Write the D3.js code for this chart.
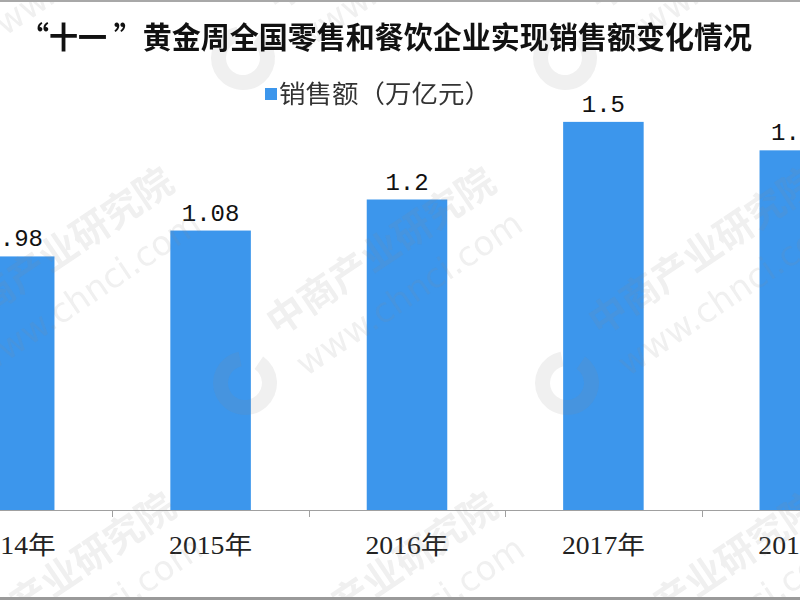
<!DOCTYPE html>
<html>
<head>
<meta charset="utf-8">
<script src="https://cdn.jsdelivr.net/npm/d3@7"></script>
<style>
html,body{margin:0;padding:0;background:#fff;}
svg{display:block;}
</style>
</head>
<body>
<svg id="chart" width="800" height="600"></svg>
<script>
const categories = ["2014年", "2015年", "2016年", "2017年", "2018年"];
const values = [0.98, 1.08, 1.2, 1.5, 1.39];
const valueLabels = ["0.98", "1.08", "1.2", "1.5", "1.39"];
const seriesName = "销售额（万亿元）";
const titleText = "“十一 ”黄金周全国零售和餐饮企业实现销售额变化情况";
const watermarkName = "中商产业研究院";
const watermarkUrl = "www.chnci.com";

const W = 800, H = 600;
const barColor = "#3c96ec";
const svg = d3.select("#chart");

svg.append("rect").attr("width", W).attr("height", H).attr("fill", "#fff");

const x = d3.scaleBand().domain(categories).range([-84, 898]).padding(0);
const y = d3.scaleLinear().domain([0, 1.6]).range([510, 96]);
const barW = x.bandwidth() * 0.41;

// bars
svg.append("g").selectAll("rect").data(categories).join("rect")
  .attr("x", (d) => x(d) + x.bandwidth() / 2 - barW / 2)
  .attr("y", (d, i) => y(values[i]))
  .attr("width", barW)
  .attr("height", (d, i) => y(0) - y(values[i]))
  .attr("fill", barColor);

// value labels
svg.append("g").selectAll("text").data(categories).join("text")
  .attr("x", (d) => x(d) + x.bandwidth() / 2)
  .attr("y", (d, i) => y(values[i]) - 10)
  .attr("text-anchor", "middle")
  .attr("font-family", "'Liberation Mono', 'DejaVu Sans Mono', monospace")
  .attr("font-size", 24)
  .attr("fill", "#111")
  .text((d, i) => valueLabels[i]);

// x axis
const axis = d3.axisBottom(x).tickSize(0).tickPadding(0);
const ax = svg.append("g").attr("transform", "translate(0,510)").call(axis);
ax.select(".domain").attr("stroke", "#a0a0a0").attr("d", "M0,0.5H800");
ax.selectAll(".tick text")
  .attr("y", 44)
  .attr("dy", 0)
  .attr("font-family", "'Liberation Serif', 'Noto Sans CJK SC', serif")
  .attr("font-size", 25)
  .attr("fill", "#222")
  .attr("textLength", 83)
  .attr("lengthAdjust", "spacingAndGlyphs");
// tick marks at category boundaries
svg.append("g").selectAll("line").data(categories.slice(1)).join("line")
  .attr("x1", (d) => Math.round(x(d)) + 0.5)
  .attr("x2", (d) => Math.round(x(d)) + 0.5)
  .attr("y1", 511).attr("y2", 517)
  .attr("stroke", "#a0a0a0");

// watermark lattice (faint)
const wm = svg.append("g").attr("opacity", 0.13).attr("pointer-events", "none");
const origins = [];
for (let a = -2; a <= 3; a++) {
  for (let b = -1; b <= 1; b++) {
    const ox = 245 + a * 322 - b * 320;
    const oy = 383 + b * 325;
    if (ox > -400 && ox < 900 && oy > -200 && oy < 900) origins.push([ox, oy]);
  }
}
origins.forEach(([ox, oy]) => {
  const g = wm.append("g").attr("transform", `translate(${ox},${oy})`);
  g.append("path")
    .attr("d", d3.arc()({innerRadius: 17, outerRadius: 32, startAngle: 0.6, endAngle: 2 * Math.PI - 0.2}))
    .attr("fill", "#8a8a8a");
  g.append("text")
    .attr("transform", "translate(33,-46) rotate(-34)")
    .attr("font-family", "'Noto Sans CJK SC', sans-serif")
    .attr("font-weight", 700)
    .attr("font-size", 38)
    .attr("fill", "#8a8a8a")
    .text(watermarkName);
  g.append("text")
    .attr("transform", "translate(61,-6) rotate(-34)")
    .attr("font-family", "'DejaVu Sans', sans-serif")
    .attr("font-size", 34)
    .attr("fill", "#8a8a8a")
    .text(watermarkUrl);
});

// title
svg.append("text")
  .attr("x", 20).attr("y", 48)
  .attr("font-family", "'Noto Sans CJK SC', sans-serif")
  .attr("font-weight", 700)
  .attr("font-size", 30)
  .attr("fill", "#111")
  .attr("textLength", 732)
  .attr("lengthAdjust", "spacingAndGlyphs")
  .text(titleText);

// legend
svg.append("rect").attr("x", 265).attr("y", 88).attr("width", 12).attr("height", 12).attr("fill", barColor);
svg.append("text")
  .attr("x", 279).attr("y", 103)
  .attr("font-family", "'Noto Sans CJK SC', sans-serif")
  .attr("font-size", 25)
  .attr("fill", "#333")
  .attr("textLength", 212)
  .attr("lengthAdjust", "spacingAndGlyphs")
  .text(seriesName);

// frame lines
svg.append("rect").attr("x", 0).attr("y", 0).attr("width", W).attr("height", 2).attr("fill", "#a8a8a8");
svg.append("rect").attr("x", 0).attr("y", 597).attr("width", W).attr("height", 3).attr("fill", "#9a9a9a");
</script>
</body>
</html>
